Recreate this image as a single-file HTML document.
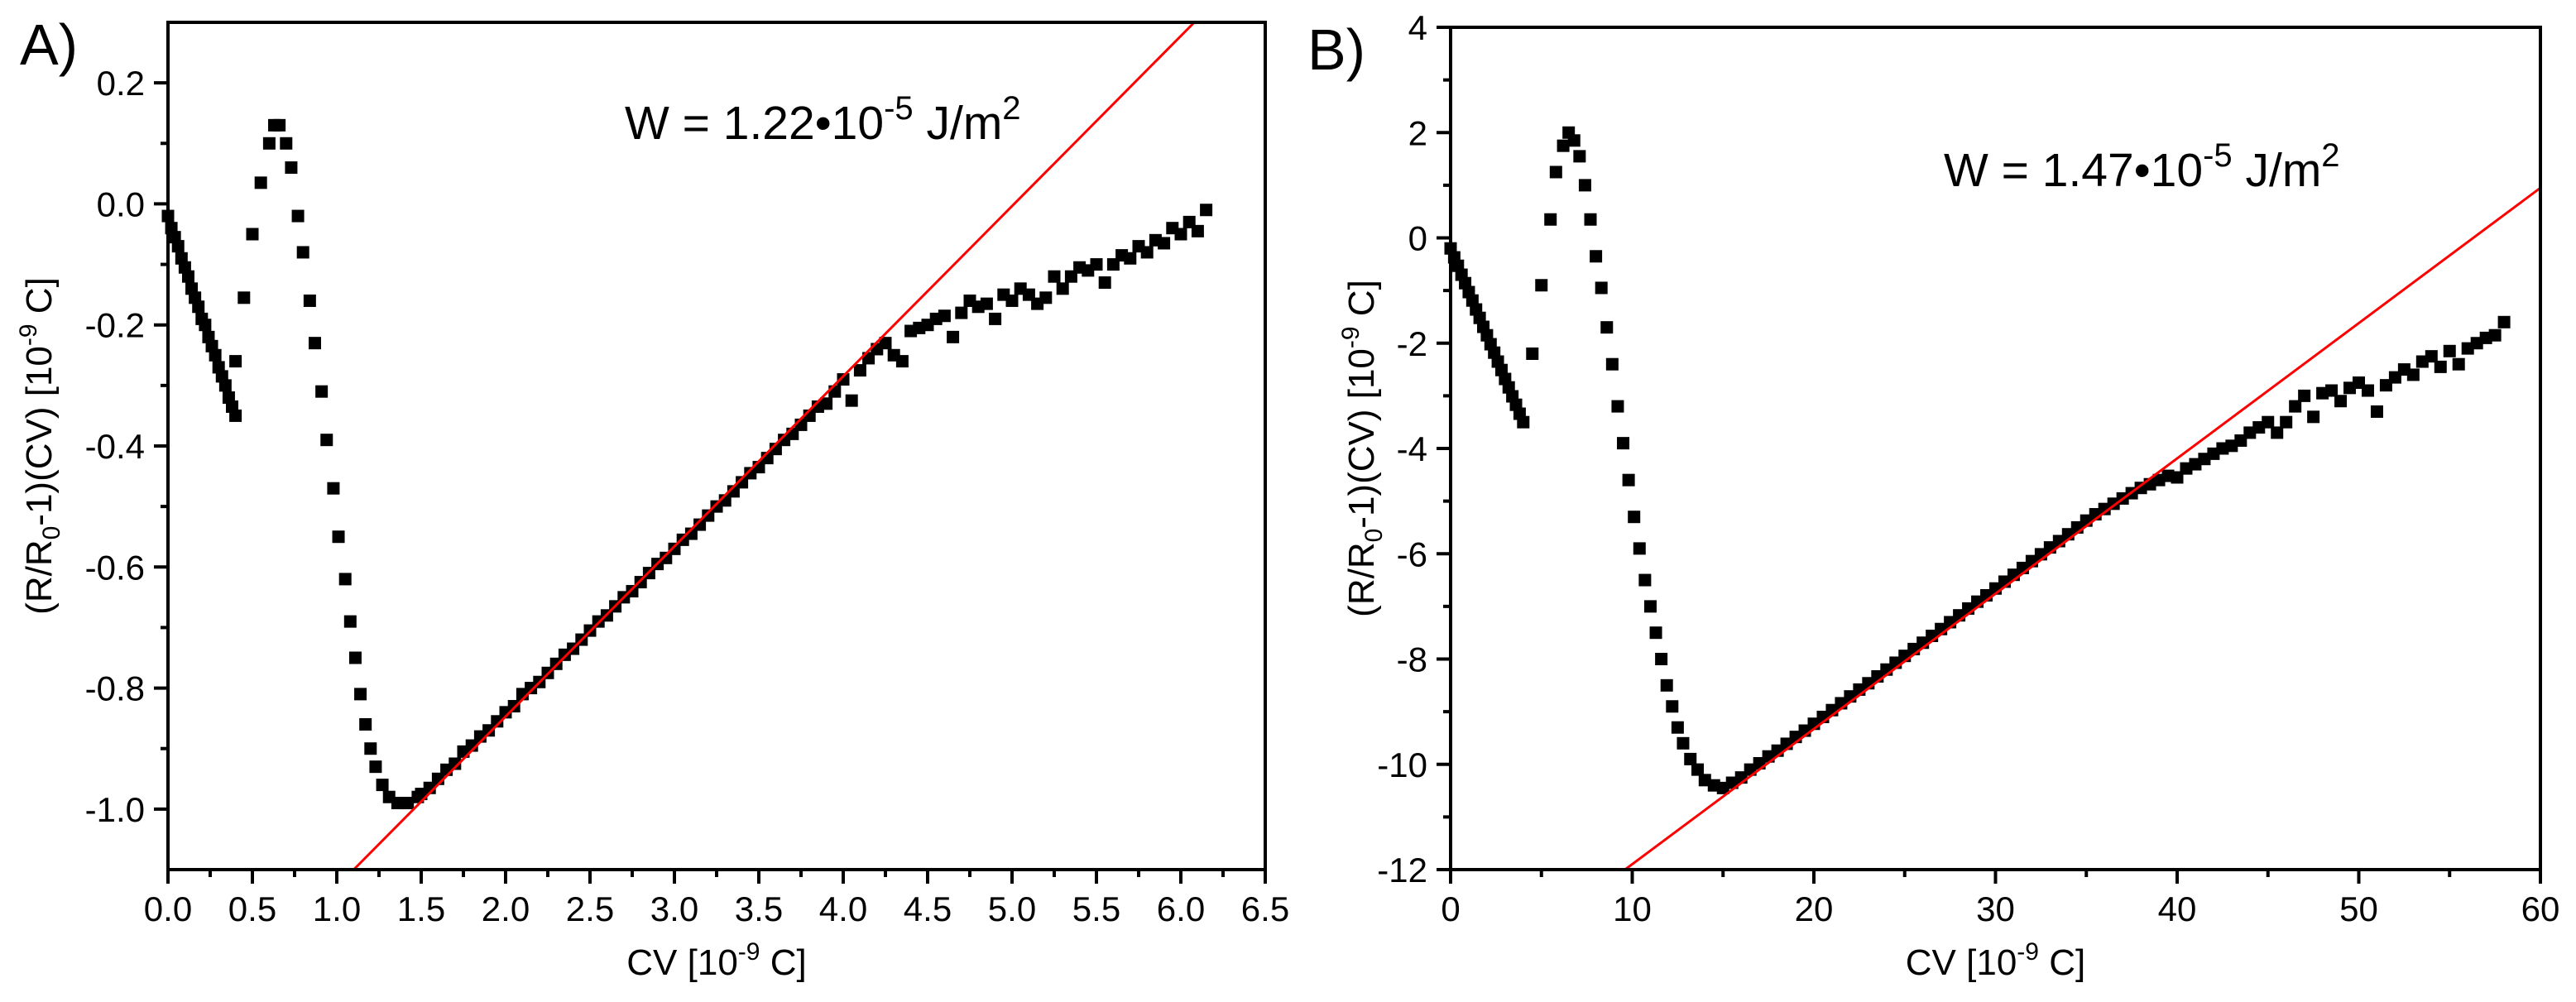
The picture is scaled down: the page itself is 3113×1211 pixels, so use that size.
<!DOCTYPE html>
<html><head><meta charset="utf-8">
<style>
html,body{margin:0;padding:0;background:#fff;}
svg{display:block;font-family:"Liberation Sans",Arial,sans-serif;}
</style></head>
<body>
<svg id="fig" width="3113" height="1211" viewBox="0 0 3113 1211" xmlns="http://www.w3.org/2000/svg">
<g id="panelA"></g>
<g id="panelB"></g>
</svg>
<script>
// ---- Panel A data ----
const aX = [0,0.02,0.04,0.06,0.08,0.10,0.12,0.14,0.16,0.18,0.20,0.22,0.24,0.26,0.28,0.30,0.32,0.34,0.36,0.38,0.40,
0.40,0.45,0.50,0.55,0.60,0.63,0.66,0.70,0.73,0.77,0.80,0.84,0.87,0.91,0.94,0.98,1.01,1.05,1.08,1.11,1.14,1.17,1.20,1.23,1.27,1.31,1.36,1.42,1.48,
1.50,1.55,1.60,1.65,1.70,1.75,1.80,1.85,1.90,1.95,2.00,2.05,2.10,2.15,2.20,2.25,2.30,2.35,2.40,2.45,2.50,2.55,2.60,2.65,2.70,2.75,2.80,2.85,2.90,2.95,3.00,3.05,3.10,3.15,3.20,3.25,3.30,3.35,3.40,3.45,3.50,3.55,3.60,3.65,3.70,3.75,3.80,3.85,3.90,3.95,4.00,4.05,4.10,4.15,4.20,4.25,4.30,4.35,
4.40,4.45,4.50,4.55,4.60,4.65,4.70,4.75,4.80,4.85,4.90,4.95,5.00,5.05,5.10,5.15,5.20,5.25,5.30,5.35,5.40,5.45,5.50,5.55,5.60,5.65,5.70,5.75,5.80,5.85,5.90,5.95,6.00,6.05,6.10,6.15];
const aY = [-0.02,-0.04,-0.055,-0.07,-0.09,-0.105,-0.12,-0.14,-0.155,-0.17,-0.19,-0.2,-0.22,-0.235,-0.25,-0.27,-0.285,-0.30,-0.32,-0.335,-0.35,
-0.26,-0.155,-0.05,0.035,0.10,0.13,0.13,0.10,0.06,-0.02,-0.08,-0.16,-0.23,-0.31,-0.39,-0.47,-0.55,-0.62,-0.69,-0.75,-0.81,-0.86,-0.90,-0.93,-0.96,-0.98,-0.99,-0.99,-0.98,
-0.975,-0.965,-0.95,-0.935,-0.925,-0.905,-0.895,-0.88,-0.87,-0.855,-0.84,-0.83,-0.81,-0.80,-0.79,-0.775,-0.76,-0.745,-0.735,-0.72,-0.705,-0.69,-0.68,-0.665,-0.65,-0.64,-0.625,-0.61,-0.595,-0.585,-0.57,-0.555,-0.545,-0.53,-0.515,-0.50,-0.49,-0.475,-0.46,-0.445,-0.435,-0.42,-0.405,-0.39,-0.38,-0.365,-0.35,-0.335,-0.33,-0.31,-0.29,-0.325,-0.275,-0.255,-0.24,-0.23,-0.25,-0.26,
-0.21,-0.205,-0.20,-0.19,-0.185,-0.22,-0.18,-0.16,-0.17,-0.165,-0.19,-0.15,-0.16,-0.14,-0.15,-0.165,-0.155,-0.12,-0.14,-0.12,-0.105,-0.11,-0.10,-0.13,-0.10,-0.085,-0.09,-0.07,-0.08,-0.06,-0.065,-0.04,-0.05,-0.03,-0.045,-0.01];
const aFitX = [1.1, 6.08];
const aFitY = [-1.1, 0.3];
const aXTicks = ["0.0","0.5","1.0","1.5","2.0","2.5","3.0","3.5","4.0","4.5","5.0","5.5","6.0","6.5"];
const aYTicks = ["-1.0","-0.8","-0.6","-0.4","-0.2","0.0","0.2"];

// ---- Panel B data ----
const bX = [0,0.2,0.4,0.6,0.8,1,1.2,1.4,1.6,1.8,2,2.2,2.4,2.6,2.8,3,3.2,3.4,3.6,3.8,4,
4.5,5,5.5,5.8,6.2,6.5,6.8,7.1,7.4,7.7,8.0,8.3,8.6,8.9,9.2,9.5,9.8,10.1,10.4,10.7,11,11.3,11.6,11.9,12.2,12.5,12.8,13.2,13.6,14,14.5,15,
15.5,16,16.5,17,17.5,18,18.5,19,19.5,20,20.5,21,21.5,22,22.5,23,23.5,24,24.5,25,25.5,26,26.5,27,27.5,28,28.5,29,29.5,30,30.5,31,31.5,32,32.5,33,33.5,34,34.5,35,
35.5,36,36.5,37,37.5,38,38.5,39,39.5,40,40.5,41,41.5,42,42.5,43,43.5,44,44.5,45,45.5,46,46.5,47,47.5,48,48.5,49,49.5,50,50.5,51,51.5,52,52.5,53,53.5,54,54.5,55,55.5,56,56.5,57,57.5,58];
const bY = [-0.2,-0.37,-0.53,-0.7,-0.86,-1.03,-1.19,-1.36,-1.52,-1.69,-1.85,-2.02,-2.18,-2.35,-2.51,-2.68,-2.84,-3.01,-3.17,-3.34,-3.5,
-2.2,-0.9,0.35,1.25,1.75,2.0,1.85,1.55,1.0,0.35,-0.35,-0.95,-1.7,-2.4,-3.2,-3.9,-4.6,-5.3,-5.9,-6.5,-7.0,-7.5,-8.0,-8.5,-8.9,-9.3,-9.6,-9.9,-10.1,-10.3,-10.4,-10.45,
-10.35,-10.25,-10.1,-9.98,-9.85,-9.74,-9.61,-9.48,-9.36,-9.23,-9.1,-8.97,-8.84,-8.71,-8.58,-8.46,-8.33,-8.2,-8.07,-7.94,-7.81,-7.69,-7.56,-7.43,-7.3,-7.17,-7.04,-6.91,-6.79,-6.66,-6.53,-6.4,-6.27,-6.14,-6.01,-5.88,-5.76,-5.63,-5.5,-5.37,
-5.25,-5.15,-5.05,-4.95,-4.85,-4.75,-4.68,-4.6,-4.52,-4.55,-4.38,-4.3,-4.2,-4.1,-4.0,-3.95,-3.85,-3.7,-3.6,-3.5,-3.7,-3.5,-3.2,-3.0,-3.4,-2.95,-2.9,-3.1,-2.85,-2.75,-2.9,-3.3,-2.8,-2.65,-2.5,-2.6,-2.35,-2.25,-2.45,-2.15,-2.4,-2.1,-2.0,-1.9,-1.85,-1.6];
const bFitX = [9.6, 60];
const bFitY = [-12, 0.95];
const bXTicks = ["0","10","20","30","40","50","60"];
const bYTicks = ["-12","-10","-8","-6","-4","-2","0","2","4"];

const NS = "http://www.w3.org/2000/svg";
function mk(parent, tag, attrs){ const e=document.createElementNS(NS,tag); for(const k in attrs) e.setAttribute(k,attrs[k]); parent.appendChild(e); return e; }

function drawPanel(g, cfg){
  const sx = v => cfg.x0 + (v-cfg.xmin)/(cfg.xmax-cfg.xmin)*(cfg.x1-cfg.x0);
  const sy = v => cfg.y0 - (v-cfg.ymin)/(cfg.ymax-cfg.ymin)*(cfg.y0-cfg.y1);
  const defs = mk(g,'clipPath',{id:cfg.id+'clip'});
  mk(defs,'rect',{x:cfg.x0,y:cfg.y1,width:cfg.x1-cfg.x0,height:cfg.y0-cfg.y1});
  const pts = mk(g,'g',{});
  
  
  const s=15;
  for(let i=0;i<cfg.xs.length;i++){
    const r = mk(pts,'rect',{x:sx(cfg.xs[i])-s/2,y:sy(cfg.ys[i])-s/2,width:s,height:s,fill:'#000'});
    
    
  }
  const fl = mk(g,'line',{x1:sx(cfg.fx[0]),y1:sy(cfg.fy[0]),x2:sx(cfg.fx[1]),y2:sy(cfg.fy[1]),stroke:'#f00','stroke-width':3,'clip-path':'url(#'+cfg.id+'clip)'});
  
  
  const fr = mk(g,'rect',{x:cfg.x0,y:cfg.y1,width:cfg.x1-cfg.x0,height:cfg.y0-cfg.y1,fill:'none',stroke:'#000','stroke-width':4});
  
  
  const xt = mk(g,'g',{});
  
  
  cfg.xt.forEach(lbl=>{
    const v=parseFloat(lbl), X=sx(v);
    mk(xt,'line',{x1:X,y1:cfg.y0,x2:X,y2:cfg.y0+17,stroke:'#000','stroke-width':4});
    const t=mk(xt,'text',{x:X,y:cfg.y0+62,'font-size':42,'text-anchor':'middle'});
    t.textContent=lbl;
    
    
    const m=v+cfg.xminor;
    if(m<cfg.xmax) mk(xt,'line',{x1:sx(m),y1:cfg.y0,x2:sx(m),y2:cfg.y0+9,stroke:'#000','stroke-width':4});
  });
  const yt = mk(g,'g',{});
  
  
  cfg.yt.forEach(lbl=>{
    const v=parseFloat(lbl), Y=sy(v);
    mk(yt,'line',{x1:cfg.x0-17,y1:Y,x2:cfg.x0,y2:Y,stroke:'#000','stroke-width':4});
    const t=mk(yt,'text',{x:cfg.x0-28,y:Y+15,'font-size':42,'text-anchor':'end'});
    t.textContent=lbl;
    
    
    const m=v+cfg.yminor;
    if(m<cfg.ymax) mk(yt,'line',{x1:cfg.x0-9,y1:sy(m),x2:cfg.x0,y2:sy(m),stroke:'#000','stroke-width':4});
  });
  const xtt = mk(g,'text',{x:(cfg.x0+cfg.x1)/2,y:1178,'font-size':44,'text-anchor':'middle'});
  xtt.innerHTML = 'CV [10<tspan dy="-18" font-size="30">-9</tspan><tspan dy="18"> C]</tspan>';
  
  
  const ytt = mk(g,'text',{x:0,y:0,'font-size':44,'text-anchor':'middle',transform:'translate('+cfg.ytx+','+((cfg.y0+cfg.y1)/2)+') rotate(-90)'});
  ytt.innerHTML = '(R/R<tspan dy="10" font-size="30">0</tspan><tspan dy="-10">-1)(CV) [10</tspan><tspan dy="-18" font-size="30">-9</tspan><tspan dy="18"> C]</tspan>';
  
  
  const an = mk(g,'text',{x:cfg.annX,y:cfg.annY,'font-size':57});
  an.innerHTML = 'W = '+cfg.ann+'•10<tspan dy="-24" font-size="40">-5</tspan><tspan dy="24"> J/m</tspan><tspan dy="-24" font-size="40">2</tspan>';
  
  
  const pl = mk(g,'text',{x:cfg.plX,y:cfg.plY,'font-size':70});
  pl.textContent = cfg.pl;
  
  
}

drawPanel(document.getElementById('panelA'),{id:'a',x0:203,x1:1529,y0:1051,y1:27,xmin:0,xmax:6.5,ymin:-1.1,ymax:0.3,
  xs:aX,ys:aY,fx:aFitX,fy:aFitY,xt:aXTicks,yt:aYTicks,xminor:0.25,yminor:0.1,ytx:62,
  ann:'1.22',annX:755,annY:168,pl:'A)',plX:24,plY:78});
drawPanel(document.getElementById('panelB'),{id:'b',x0:1753,x1:3070,y0:1051,y1:33,xmin:0,xmax:60,ymin:-12,ymax:4,
  xs:bX,ys:bY,fx:bFitX,fy:bFitY,xt:bXTicks,yt:bYTicks,xminor:5,yminor:1,ytx:1660,
  ann:'1.47',annX:2349,annY:225,pl:'B)',plX:1580,plY:84});
</script>
</body></html>
